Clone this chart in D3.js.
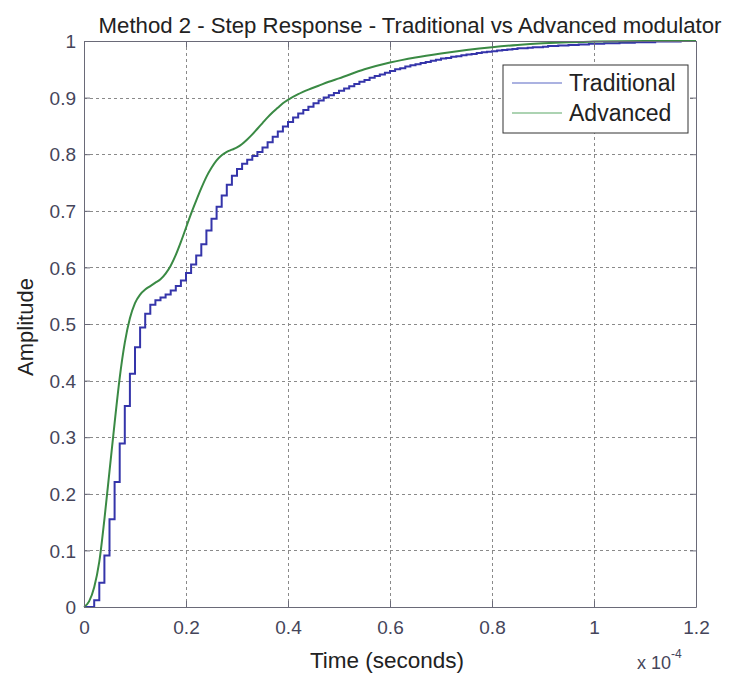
<!DOCTYPE html>
<html>
<head>
<meta charset="utf-8">
<script src="https://cdn.jsdelivr.net/npm/d3@7"></script>
<style>
  body { margin: 0; background: #fff; }
  text { font-family: "Liberation Sans", Arial, sans-serif; }
</style>
</head>
<body>
<svg id="chart" width="729" height="675"></svg>
<script>
// Step response data, time in microseconds (axis shows x 10^-4 s)
const tradSamples = [
  0, 0, 0.012, 0.043, 0.091, 0.155, 0.221, 0.289, 0.355, 0.412,
  0.459, 0.494, 0.518, 0.534, 0.542, 0.547, 0.552, 0.559, 0.567, 0.577,
  0.590, 0.605, 0.621, 0.641, 0.665, 0.686, 0.707, 0.727, 0.746, 0.762,
  0.774, 0.783, 0.790, 0.797, 0.804, 0.812, 0.821, 0.831, 0.840, 0.849,
  0.857, 0.865, 0.872, 0.878, 0.884, 0.890, 0.895, 0.900, 0.904, 0.908,
  0.912, 0.916, 0.920, 0.924, 0.928, 0.931, 0.935, 0.938, 0.941, 0.944,
  0.947, 0.950, 0.952, 0.955, 0.957, 0.959, 0.961, 0.963, 0.965, 0.967,
  0.969, 0.970, 0.972, 0.973, 0.975, 0.976, 0.977, 0.979, 0.980, 0.981,
  0.982, 0.983, 0.984, 0.985, 0.986, 0.987, 0.987, 0.988, 0.989, 0.989,
  0.990, 0.991, 0.991, 0.992, 0.992, 0.993, 0.993, 0.994, 0.994, 0.995,
  0.995, 0.995, 0.996, 0.996, 0.996, 0.997, 0.997, 0.997, 0.998, 0.998,
  0.998, 0.998, 0.999, 0.999, 0.999, 0.999, 0.999, 1.0, 1.0, 1.0, 1.0
];
const tradStep = 1; // microseconds per sample

const advTimes = [
  0, 1, 2, 3, 4, 5, 6, 7, 8, 9, 10, 11, 12, 13, 14, 15, 16, 17, 18, 19,
  20, 21, 22, 23, 24, 25, 26, 27, 28, 29, 30, 31, 32, 33, 34, 35, 36, 37, 38, 39,
  40, 42, 44, 46, 48, 50, 55, 60, 65, 70, 75, 80, 85, 90, 95, 100, 110, 120
];
const advValues = [
  0, 0.010, 0.035, 0.080, 0.155, 0.240, 0.325, 0.405, 0.467, 0.510,
  0.537, 0.552, 0.561, 0.567, 0.573, 0.579, 0.589, 0.603, 0.622, 0.645,
  0.670, 0.695, 0.718, 0.740, 0.760, 0.776, 0.789, 0.798, 0.804, 0.808,
  0.812, 0.818, 0.826, 0.835, 0.845, 0.855, 0.865, 0.874, 0.882, 0.890,
  0.896, 0.906, 0.914, 0.921, 0.928, 0.934, 0.950, 0.962, 0.971, 0.978,
  0.984, 0.989, 0.993, 0.996, 0.998, 0.999, 1.0, 1.0
];

const xTicks = [0, 20, 40, 60, 80, 100, 120];
const xTickLabels = ["0", "0.2", "0.4", "0.6", "0.8", "1", "1.2"];
const yTicks = [0, 0.1, 0.2, 0.3, 0.4, 0.5, 0.6, 0.7, 0.8, 0.9, 1];
const yTickLabels = ["0", "0.1", "0.2", "0.3", "0.4", "0.5", "0.6", "0.7", "0.8", "0.9", "1"];

const seriesNames = ["Traditional", "Advanced"];
const seriesColors = ["#3535aa", "#3a8a44"];
const legendColors = ["#5866c4", "#5aa866"];

// Layout
const svg = d3.select("#chart");
const plotL = 84, plotR = 696, plotT = 41, plotB = 607;

const x = d3.scaleLinear().domain([0, 120]).range([plotL, plotR]);
const y = d3.scaleLinear().domain([0, 1]).range([plotB, plotT]);

// grid (dotted, MATLAB style)
const grid = svg.append("g").attr("stroke", "#8a8a8a").attr("stroke-width", 1)
  .attr("stroke-dasharray", "3,3");
grid.selectAll(".vg").data(xTicks.slice(1, -1)).enter().append("line")
  .attr("x1", d => x(d) + 0.5).attr("x2", d => x(d) + 0.5)
  .attr("y1", plotT).attr("y2", plotB);
grid.selectAll(".hg").data(yTicks.slice(1, -1)).enter().append("line")
  .attr("y1", d => Math.round(y(d)) + 0.5).attr("y2", d => Math.round(y(d)) + 0.5)
  .attr("x1", plotL).attr("x2", plotR);

// traditional: stair steps
const tradData = tradSamples.map((v, i) => ({ t: i * tradStep, v: v }));
svg.append("path")
  .datum(tradData)
  .attr("fill", "none")
  .attr("stroke", seriesColors[0])
  .attr("stroke-width", 2)
  .attr("d", d3.line().x(d => x(d.t)).y(d => y(d.v)).curve(d3.curveStepAfter));

// advanced: smooth response
const advData = advTimes.map((t, i) => ({ t: t, v: advValues[i] }));
svg.append("path")
  .datum(advData)
  .attr("fill", "none")
  .attr("stroke", seriesColors[1])
  .attr("stroke-width", 2)
  .attr("d", d3.line().x(d => x(d.t)).y(d => y(d.v)).curve(d3.curveMonotoneX));

// axes box + ticks
const xAxis = d3.axisBottom(x).tickValues(xTicks).tickSizeInner(-6).tickSizeOuter(0)
  .tickFormat((d, i) => xTickLabels[i]);
const yAxis = d3.axisLeft(y).tickValues(yTicks).tickSizeInner(-6).tickSizeOuter(0)
  .tickFormat((d, i) => yTickLabels[i]);

const gx = svg.append("g").attr("transform", `translate(0,${plotB})`).call(xAxis);
const gy = svg.append("g").attr("transform", `translate(${plotL},0)`).call(yAxis);
const gxTop = svg.append("g").attr("transform", `translate(0,${plotT})`)
  .call(d3.axisTop(x).tickValues(xTicks).tickSizeInner(-6).tickSizeOuter(0).tickFormat(""));
const gyRight = svg.append("g").attr("transform", `translate(${plotR},0)`)
  .call(d3.axisRight(y).tickValues(yTicks).tickSizeInner(-6).tickSizeOuter(0).tickFormat(""));

[gx, gy, gxTop, gyRight].forEach(g => {
  g.select(".domain").attr("stroke", "#6a6a78");
  g.selectAll(".tick line").attr("stroke", "#6a6a78");
  g.selectAll(".tick text").attr("fill", "#45455a").attr("font-size", 19)
    .attr("font-family", "Liberation Sans, Arial, sans-serif");
});
gx.selectAll(".tick text").attr("dy", null).attr("y", 27);
gy.selectAll(".tick text").attr("x", -8).attr("dy", "0.35em");

// title + labels
svg.append("text")
  .attr("x", 410).attr("y", 33)
  .attr("text-anchor", "middle")
  .attr("font-size", 22.2)
  .attr("fill", "#222")
  .text("Method 2 - Step Response - Traditional vs Advanced modulator");

svg.append("text")
  .attr("x", 387).attr("y", 668)
  .attr("text-anchor", "middle")
  .attr("font-size", 22.5)
  .attr("fill", "#222")
  .text("Time (seconds)");

svg.append("text")
  .attr("transform", "translate(33,327) rotate(-90)")
  .attr("text-anchor", "middle")
  .attr("font-size", 22)
  .attr("fill", "#222")
  .text("Amplitude");

const expo = svg.append("text")
  .attr("x", 637).attr("y", 669)
  .attr("font-size", 18)
  .attr("fill", "#45455a");
expo.append("tspan").text("x 10");
expo.append("tspan").attr("dy", -11).attr("font-size", 12).text("-4");

// legend
const legend = svg.append("g").attr("transform", "translate(503,65)");
legend.append("rect")
  .attr("width", 185).attr("height", 68)
  .attr("fill", "#fff").attr("stroke", "#333").attr("stroke-width", 1);
seriesNames.forEach((name, i) => {
  const ly = 18 + i * 30;
  legend.append("line")
    .attr("x1", 9).attr("x2", 59).attr("y1", ly).attr("y2", ly)
    .attr("stroke", legendColors[i]).attr("stroke-width", 1.2);
  legend.append("text")
    .attr("x", 66).attr("y", ly).attr("dy", "0.36em")
    .attr("font-size", 23)
    .attr("fill", "#222")
    .text(name);
});
</script>
</body>
</html>
